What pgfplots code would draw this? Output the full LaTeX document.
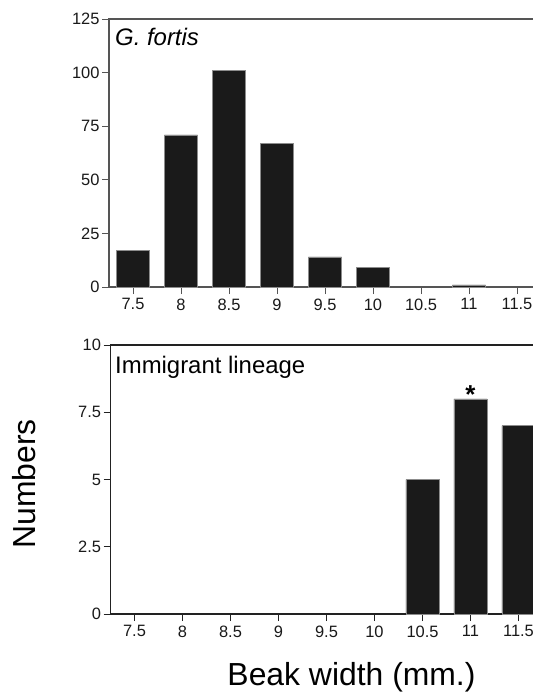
\documentclass[border=0pt]{standalone}
\usepackage{pgfplots}
\pgfplotsset{compat=1.18}
\usepackage{fontspec}
\setmainfont{Liberation Sans}
\definecolor{barfill}{HTML}{1A1A1A}
\definecolor{baredge}{HTML}{8C8C8C}
\definecolor{axtop}{HTML}{555555}
\definecolor{axbot}{HTML}{222222}
\begin{document}
\begin{tikzpicture}
\useasboundingbox (0,0) rectangle (533bp,-692bp);
\clip (0,0) rectangle (533bp,-692bp);
\pgfplotsset{
  panel/.style={
    scale only axis,
    width=432bp,
    xmin=7.25, xmax=11.75,
    ymin=0,
    xtick={7.5,8,8.5,9,9.5,10,10.5,11,11.5},
    xticklabels={7.5,8,8.5,9,9.5,10,10.5,11,11.5},
    xtick pos=bottom, ytick pos=left,
    tick align=outside,
    major tick length=7bp,
    tick style={line width=0.9bp},
    axis line style={line width=1.1bp},
    ticklabel style={font=\fontsize{16.5}{16.5}\selectfont, text=black!90},
    /pgf/number format/assume math mode=true,
    xticklabel style={yshift=-1bp},
    yticklabel style={xshift=1bp},
    clip=false,
  },
  barst/.style={ybar, bar width=0.344, fill=barfill, draw=baredge, line width=0.5bp, bar shift=0pt},
}
% top panel
\begin{axis}[panel,
  at={(109bp,-19bp)}, anchor=north west,
  height=268bp, ymax=125,
  ytick={0,25,50,75,100,125},
  yticklabels={0,25,50,75,100,125},
  axis line style={line width=1.1bp, draw=axtop},
  tick style={line width=0.9bp, draw=axtop},
]
\addplot[barst] coordinates {(7.5,17) (8,71) (8.5,101) (9,67) (9.5,14) (10,9) (11,1)};
\node[anchor=base west, inner sep=0pt, font=\fontsize{24}{24}\selectfont\itshape] at (rel axis cs:0,1) [xshift=6bp, yshift=-26bp] {G. fortis};
\end{axis}
% bottom panel
\begin{axis}[panel,
  at={(110.5bp,-345bp)}, anchor=north west,
  height=269bp, ymax=10,
  ytick={0,2.5,5,7.5,10},
  yticklabels={0,2.5,5,7.5,10},
  axis line style={line width=1.1bp, draw=axbot},
  tick style={line width=0.9bp, draw=axbot},
]
\addplot[barst] coordinates {(10.5,5) (11,8) (11.5,7)};
\node[anchor=base west, inner sep=0pt, font=\fontsize{24}{24}\selectfont] at (rel axis cs:0,1) [xshift=4.5bp, yshift=-28bp] {Immigrant lineage};
\node[anchor=base, inner sep=0pt, font=\fontsize{26}{26}\selectfont\bfseries] at (axis cs:11,8) [yshift=-4.5bp] {*};
\end{axis}
\node[rotate=90, anchor=base, inner sep=0pt, font=\fontsize{32}{32}\selectfont] at (35bp,-484bp) {Numbers};
\node[anchor=base, inner sep=0pt, font=\fontsize{32}{32}\selectfont] at (351.5bp,-685bp) {Beak width (mm.)};
\end{tikzpicture}
\end{document}
